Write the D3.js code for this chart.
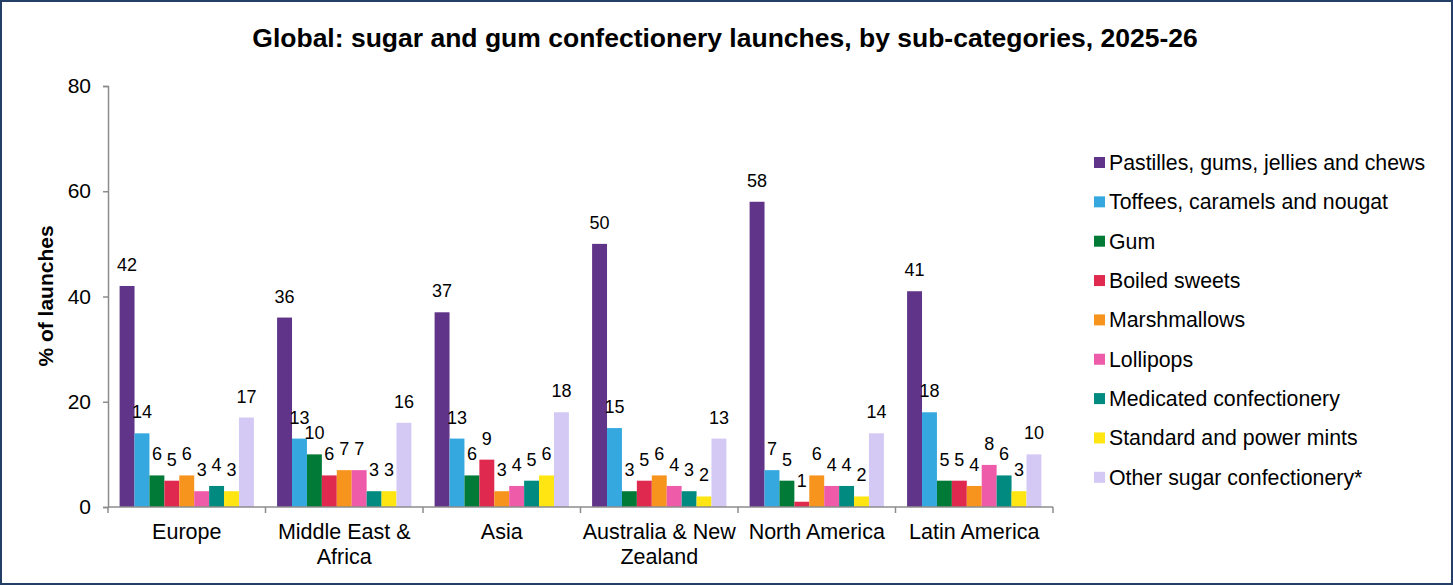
<!DOCTYPE html>
<html>
<head>
<meta charset="utf-8">
<script src="https://cdn.jsdelivr.net/npm/d3@7"></script>
<style>
  body { margin: 0; background: #fff; }
  svg { display: block; font-family: "Liberation Sans", Arial, sans-serif; }
</style>
</head>
<body>
<svg id="chart" width="1453" height="585"></svg>
<script>
// data
const regions = [['Europe'], ['Middle East &', 'Africa'], ['Asia'], ['Australia & New', 'Zealand'], ['North America'], ['Latin America']];
const seriesNames = [
  'Pastilles, gums, jellies and chews',
  'Toffees, caramels and nougat',
  'Gum',
  'Boiled sweets',
  'Marshmallows',
  'Lollipops',
  'Medicated confectionery',
  'Standard and power mints',
  'Other sugar confectionery*'
];
const pastilles = [42, 36, 37, 50, 58, 41];
const toffees = [14, 13, 13, 15, 7, 18];
const gum = [6, 10, 6, 3, 5, 5];
const boiled = [5, 6, 9, 5, 1, 5];
const marshmallows = [6, 7, 3, 6, 6, 4];
const lollipops = [3, 7, 4, 4, 4, 8];
const medicated = [4, 3, 5, 3, 4, 6];
const mints = [3, 3, 6, 2, 2, 3];
const other = [17, 16, 18, 13, 14, 10];
const yTicks = [0, 20, 40, 60, 80];

const colors = ['#5f3489', '#35a9df', '#027a37', '#e0294f', '#f7941d', '#ee5ba8', '#008a80', '#ffe512', '#d4c8f5'];
const values = [pastilles, toffees, gum, boiled, marshmallows, lollipops, medicated, mints, other];

const svg = d3.select('#chart');
const W = 1453, H = 585;

// frame
svg.append('rect')
  .attr('x', 1).attr('y', 1)
  .attr('width', W - 2).attr('height', H - 2)
  .attr('fill', '#fff')
  .attr('stroke', '#243f66')
  .attr('stroke-width', 2);

// title
svg.append('text')
  .attr('x', 725).attr('y', 47)
  .attr('text-anchor', 'middle')
  .attr('font-size', 26.5)
  .attr('font-weight', 'bold')
  .attr('fill', '#000')
  .text('Global: sugar and gum confectionery launches, by sub-categories, 2025-26');

const plot = {left: 108, right: 1053, top: 86, bottom: 507};

const x0 = d3.scaleBand()
  .domain(d3.range(regions.length))
  .range([plot.left, plot.right])
  .padding(0);

const x1 = d3.scaleBand()
  .domain(d3.range(seriesNames.length))
  .range([11.6, x0.bandwidth() - 11.6])
  .padding(0);

const y = d3.scaleLinear()
  .domain([0, 80])
  .range([plot.bottom, plot.top]);

const axisColor = '#8c8c8c';

// y axis
const yAxis = svg.append('g')
  .attr('transform', `translate(${plot.left},0)`)
  .call(d3.axisLeft(y).tickValues(yTicks).tickSize(5).tickPadding(12));
yAxis.select('.domain').attr('stroke', axisColor).attr('stroke-width', 1.5);
yAxis.selectAll('.tick line').attr('stroke', axisColor).attr('stroke-width', 1.5);
yAxis.selectAll('.tick text')
  .attr('font-size', 21)
  .attr('font-family', '"Liberation Sans", Arial, sans-serif')
  .attr('fill', '#000');

svg.append('text')
  .attr('transform', 'translate(53,296) rotate(-90)')
  .attr('text-anchor', 'middle')
  .attr('font-size', 21)
  .attr('font-weight', 'bold')
  .attr('fill', '#000')
  .text('% of launches');

// bars
const groups = svg.append('g')
  .selectAll('g')
  .data(regions)
  .join('g')
  .attr('transform', (d, i) => `translate(${x0(i)},0)`);

groups.selectAll('rect')
  .data((d, i) => values.map((s, k) => ({k, v: s[i]})))
  .join('rect')
  .attr('x', d => x1(d.k))
  .attr('y', d => y(d.v))
  .attr('width', x1.bandwidth())
  .attr('height', d => y(0) - y(d.v))
  .attr('fill', d => colors[d.k]);

groups.selectAll('text.val')
  .data((d, i) => values.map((s, k) => ({k, v: s[i]})))
  .join('text')
  .attr('class', 'val')
  .attr('x', d => x1(d.k) + x1.bandwidth() / 2)
  .attr('y', d => y(d.v) - 15)
  .attr('text-anchor', 'middle')
  .attr('font-size', 18)
  .attr('fill', '#000')
  .text(d => d.v);

// x axis
const xAxis = svg.append('g')
  .attr('transform', `translate(0,${plot.bottom})`);
xAxis.append('line')
  .attr('x1', plot.left).attr('x2', plot.right)
  .attr('stroke', axisColor).attr('stroke-width', 1.5);
xAxis.selectAll('line.tick')
  .data(d3.range(regions.length + 1))
  .join('line')
  .attr('class', 'tick')
  .attr('x1', i => plot.left + i * x0.bandwidth())
  .attr('x2', i => plot.left + i * x0.bandwidth())
  .attr('y1', 0).attr('y2', 6)
  .attr('stroke', axisColor).attr('stroke-width', 1.5);

const xLabels = xAxis.selectAll('text')
  .data(regions)
  .join('text')
  .attr('text-anchor', 'middle')
  .attr('font-size', 21.5)
  .attr('fill', '#000');
xLabels.selectAll('tspan')
  .data((d, i) => d.map(line => ({line, i})))
  .join('tspan')
  .attr('x', d => x0(d.i) + x0.bandwidth() / 2)
  .attr('y', (d, j) => 32 + j * 24.5)
  .text(d => d.line);

// legend
const legend = svg.append('g')
  .attr('transform', 'translate(1094,162.5)');
const items = legend.selectAll('g')
  .data(seriesNames)
  .join('g')
  .attr('transform', (d, i) => `translate(0,${i * 39.35})`);
items.append('rect')
  .attr('x', 0).attr('y', -5.5)
  .attr('width', 11).attr('height', 11)
  .attr('fill', (d, i) => colors[i]);
items.append('text')
  .attr('x', 15).attr('y', 0)
  .attr('dy', '0.35em')
  .attr('font-size', 21.3)
  .attr('fill', '#000')
  .text(d => d);
</script>
</body>
</html>
